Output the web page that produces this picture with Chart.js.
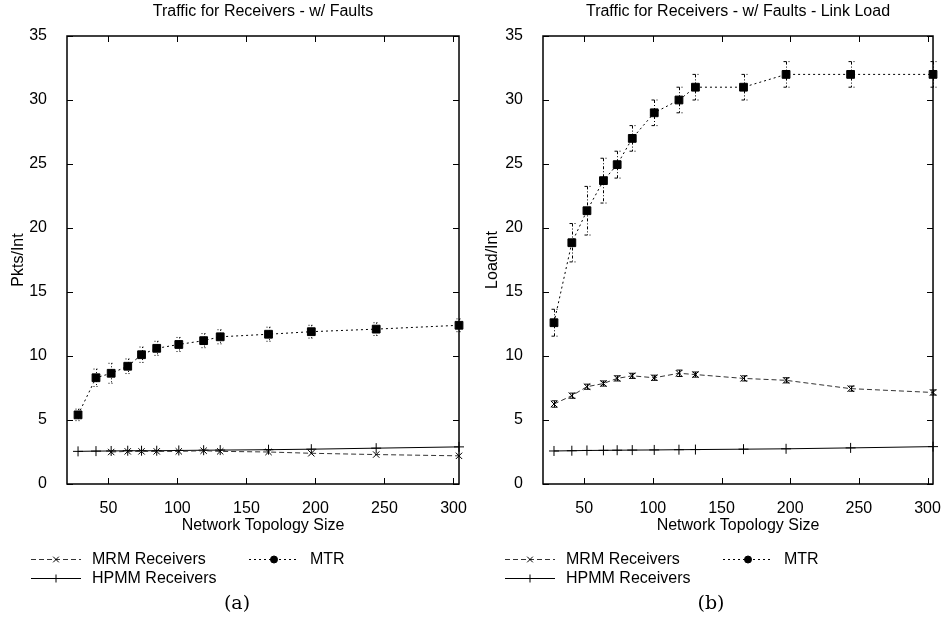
<!DOCTYPE html>
<html>
<head>
<meta charset="utf-8">
<script src="https://cdn.jsdelivr.net/npm/chart.js@4.4.1/dist/chart.umd.min.js"></script>
<style>
  html, body { margin: 0; padding: 0; background: #fff; }
  #wrap { position: relative; width: 948px; height: 641px; }
  canvas { position: absolute; top: 0; }
  #c1 { left: 0; }
  #c2 { left: 474px; }
</style>
</head>
<body>
<div id="wrap">
  <canvas id="c1" width="474" height="641"></canvas>
  <canvas id="c2" width="474" height="641"></canvas>
</div>
<script>
// network sizes (x values)
const sizes = [28, 41, 52, 64, 74, 85, 101, 119, 131, 166, 197, 244, 304];
const xTicks = [50, 100, 150, 200, 250, 300];
const yTicks = [0, 5, 10, 15, 20, 25, 30, 35];

// (a) packets per interval
const pktsMrm = [null, null, 2.5, 2.55, 2.55, 2.55, 2.55, 2.6, 2.55, 2.5, 2.4, 2.3, 2.2];
const pktsMtr = [5.4, 8.3, 8.65, 9.2, 10.1, 10.6, 10.9, 11.2, 11.5, 11.7, 11.9, 12.1, 12.4];
const pktsMtrErr = [0.45, 0.68, 0.78, 0.57, 0.6, 0.55, 0.55, 0.55, 0.55, 0.55, 0.5, 0.5, 0.5];
const pktsHpmm = [2.55, 2.57, 2.58, 2.6, 2.6, 2.6, 2.62, 2.64, 2.65, 2.68, 2.72, 2.8, 2.9];

// (b) link load per interval
const loadMrm = [6.25, 6.9, 7.6, 7.85, 8.25, 8.45, 8.3, 8.65, 8.55, 8.25, 8.1, 7.45, 7.15];
const loadMrmErr = [0.25, 0.2, 0.2, 0.2, 0.2, 0.2, 0.2, 0.25, 0.2, 0.2, 0.2, 0.2, 0.2];
const loadMtr = [12.6, 18.85, 21.35, 23.7, 24.95, 27, 29, 30, 31, 31, 32, 32, 32];
const loadMtrErr = [1.05, 1.5, 1.9, 1.75, 1.05, 1, 1, 1, 1, 1, 1, 1, 1];
const loadHpmm = [2.58, 2.6, 2.62, 2.63, 2.64, 2.65, 2.66, 2.68, 2.69, 2.72, 2.75, 2.82, 2.92];

const sansFont = "'Liberation Sans', Arial, sans-serif";
Chart.defaults.font.family = sansFont;
Chart.defaults.font.size = 16;
Chart.defaults.color = '#000';

const pts = (vals) => sizes.map((s, i) => ({x: s, y: vals[i]}));

/*********************************
 PLUGINS
**********************************/
// gnuplot style frame with inward (mirrored) ticks + title over the plot area
const framePlugin = {
  id: 'frame',
  afterDraw(chart) {
    const {ctx, chartArea: a, scales: {x, y}} = chart;
    ctx.save();
    ctx.strokeStyle = '#000';
    ctx.lineWidth = 1.5;
    ctx.strokeRect(a.left, a.top, a.right - a.left, a.bottom - a.top);
    ctx.lineWidth = 1;
    ctx.beginPath();
    x.ticks.forEach(t => {
      const px = Math.round(x.getPixelForValue(t.value)) + 0.5;
      ctx.moveTo(px, a.bottom); ctx.lineTo(px, a.bottom - 6);
      ctx.moveTo(px, a.top); ctx.lineTo(px, a.top + 6);
    });
    y.ticks.forEach(t => {
      const py = Math.round(y.getPixelForValue(t.value)) + 0.5;
      ctx.moveTo(a.left, py); ctx.lineTo(a.left + 6, py);
      ctx.moveTo(a.right, py); ctx.lineTo(a.right - 6, py);
    });
    ctx.stroke();
    ctx.font = '16px ' + sansFont;
    ctx.fillStyle = '#000';
    ctx.textAlign = 'center';
    ctx.textBaseline = 'middle';
    ctx.fillText(chart.options.plugins.frame.title, (a.left + a.right) / 2, 12);
    ctx.restore();
  }
};

// error bars from dataset.errors
const errorBarPlugin = {
  id: 'errorBars',
  afterDatasetsDraw(chart) {
    const {ctx, scales: {x, y}} = chart;
    chart.data.datasets.forEach(ds => {
      if (!ds.errors) return;
      ctx.save();
      ctx.strokeStyle = '#000';
      ctx.lineWidth = 1;
      ctx.setLineDash(ds.errDash || []);
      ds.data.forEach((p, i) => {
        if (p.y === null) return;
        const px = Math.round(x.getPixelForValue(p.x)) + 0.5;
        const top = y.getPixelForValue(p.y + ds.errors[i]);
        const bot = y.getPixelForValue(p.y - ds.errors[i]);
        ctx.beginPath();
        ctx.moveTo(px, top); ctx.lineTo(px, bot);
        ctx.moveTo(px - 3, top); ctx.lineTo(px + 3, top);
        ctx.moveTo(px - 3, bot); ctx.lineTo(px + 3, bot);
        ctx.stroke();
      });
      ctx.restore();
    });
  }
};

// legend below the plot + sub caption
const legendPlugin = {
  id: 'plotLegend',
  afterDraw(chart) {
    const {ctx} = chart;
    const slots = [[31, 559], [249, 559], [31, 578]];
    ctx.save();
    chart.data.datasets.forEach((ds, i) => {
      const [lx, ly] = slots[i];
      ctx.strokeStyle = ds.borderColor;
      ctx.lineWidth = 1;
      ctx.setLineDash(ds.borderDash || []);
      ctx.beginPath();
      ctx.moveTo(lx, ly + 0.5); ctx.lineTo(lx + 50, ly + 0.5);
      ctx.stroke();
      ctx.setLineDash([]);
      ctx.fillStyle = '#000';
      ctx.strokeStyle = '#000';
      const style = ds.legendMarker || ds.pointStyle;
      Chart.helpers.drawPoint(ctx, {pointStyle: style, radius: style === 'circle' ? 3.5 : 4, borderWidth: 1, rotation: 0}, lx + 25, ly + 0.5);
      ctx.font = '16px ' + sansFont;
      ctx.textBaseline = 'middle';
      ctx.textAlign = 'left';
      ctx.fillText(ds.label, lx + 61, ly + 1);
    });
    const cap = chart.options.plugins.plotLegend.caption;
    ctx.font = "19px 'DejaVu Serif', serif";
    ctx.textAlign = 'center';
    ctx.textBaseline = 'middle';
    ctx.fillText(cap, 237, 604);
    ctx.restore();
  }
};

function makeConfig(title, yTitle, mrm, mrmErr, mtr, mtrErr, hpmm, caption, yWidth, padRight, mtrErrDash) {
  return {
    type: 'line',
    data: {
      datasets: [
        {
          label: 'MRM Receivers',
          data: pts(mrm),
          errors: mrmErr,
          errDash: [],
          borderColor: '#333',
          borderDash: [5, 3],
          borderWidth: 1,
          pointStyle: 'crossRot',
          pointRadius: 4.5,
          pointBorderColor: '#000',
          pointBorderWidth: 1,
          clip: false
        },
        {
          label: 'MTR',
          data: pts(mtr),
          errors: mtrErr,
          errDash: mtrErrDash,
          borderColor: '#000',
          borderDash: [2, 3],
          borderWidth: 1,
          pointStyle: 'rect',
          pointRadius: 5.5,
          pointBackgroundColor: '#000',
          pointBorderColor: '#000',
          pointBorderWidth: 1,
          legendMarker: 'circle',
          clip: false
        },
        {
          label: 'HPMM Receivers',
          data: pts(hpmm),
          borderColor: '#000',
          borderWidth: 1,
          pointStyle: 'cross',
          pointRadius: 5,
          pointBorderColor: '#000',
          pointBorderWidth: 1,
          clip: false
        }
      ]
    },
    options: {
      responsive: false,
      animation: false,
      layout: {padding: {top: 36, left: 0, right: padRight, bottom: 106}},
      plugins: {
        legend: {display: false},
        tooltip: {enabled: false},
        title: {display: false},
        frame: {title: title},
        plotLegend: {caption: caption}
      },
      scales: {
        x: {
          type: 'linear',
          min: 20,
          max: 304,
          grid: {display: false},
          border: {display: false},
          afterBuildTicks: (s) => { s.ticks = xTicks.map(v => ({value: v})); },
          ticks: {padding: 7, maxRotation: 0, font: {size: 16}},
          title: {display: true, text: 'Network Topology Size', font: {size: 16}, padding: {top: 0, bottom: 0}},
          afterFit: (s) => { s.height = 51; }
        },
        y: {
          type: 'linear',
          min: 0,
          max: 35,
          grid: {display: false},
          border: {display: false},
          afterBuildTicks: (s) => { s.ticks = yTicks.map(v => ({value: v})); },
          ticks: {padding: 12, font: {size: 16}},
          title: {display: true, text: yTitle, font: {size: 16}, padding: {top: 9, bottom: 0}},
          afterFit: (s) => { s.width = yWidth; }
        }
      }
    },
    plugins: [errorBarPlugin, framePlugin, legendPlugin]
  };
}

new Chart('c1', makeConfig('Traffic for Receivers - w/ Faults', 'Pkts/Int',
  pktsMrm, null, pktsMtr, pktsMtrErr, pktsHpmm, '(a)', 67, 12, [1, 2]));
new Chart('c2', makeConfig('Traffic for Receivers - w/ Faults - Link Load', 'Load/Int',
  loadMrm, loadMrmErr, loadMtr, loadMtrErr, loadHpmm, '(b)', 69, 9, [3, 2, 1, 2]));
</script>
</body>
</html>
